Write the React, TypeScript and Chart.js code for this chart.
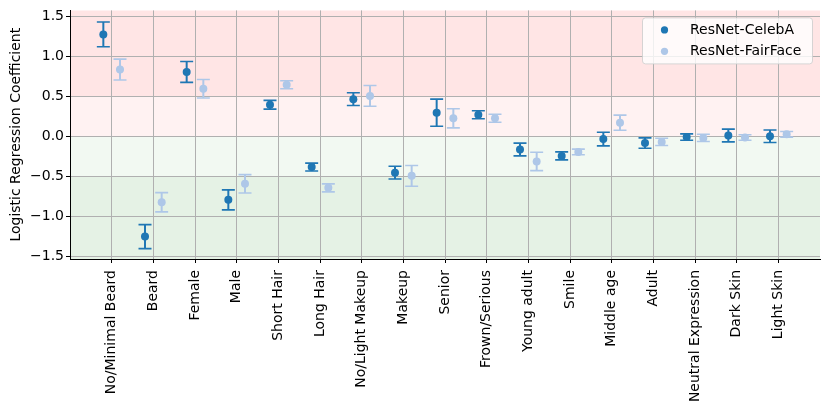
import { Chart, registerables } from "chart.js";
import { useEffect, useRef } from "react";

Chart.register(...registerables);

Chart.defaults.font.family = "'DejaVu Sans', sans-serif";
Chart.defaults.font.size = 14;
Chart.defaults.color = "#000";

const categories = [
  "No/Minimal Beard",
  "Beard",
  "Female",
  "Male",
  "Short Hair",
  "Long Hair",
  "No/Light Makeup",
  "Makeup",
  "Senior",
  "Frown/Serious",
  "Young adult",
  "Smile",
  "Middle age",
  "Adult",
  "Neutral Expression",
  "Dark Skin",
  "Light Skin",
];

const celebaMean = [
  1.28, -1.25, 0.81, -0.79, 0.4, -0.38, 0.47, -0.45, 0.3, 0.275, -0.16, -0.24,
  -0.03, -0.08, -0.005, 0.015, 0.005,
];
const celebaErr = [
  0.155, 0.15, 0.13, 0.125, 0.055, 0.05, 0.08, 0.08, 0.17, 0.05, 0.08, 0.05,
  0.085, 0.065, 0.04, 0.08, 0.078,
];
const fairfaceMean = [
  0.84, -0.82, 0.6, -0.59, 0.65, -0.64, 0.51, -0.49, 0.23, 0.23, -0.31, -0.19,
  0.175, -0.065, -0.015, -0.01, 0.03,
];
const fairfaceErr = [
  0.13, 0.12, 0.115, 0.115, 0.05, 0.05, 0.13, 0.13, 0.12, 0.05, 0.115, 0.035,
  0.095, 0.045, 0.045, 0.035, 0.035,
];

const yTicks = [-1.5, -1.0, -0.5, 0.0, 0.5, 1.0, 1.5];

// shaded bands behind the data: [from, to, colour]
const bands: [number, number, string][] = [
  [0.5, 2, "rgba(255, 0, 0, 0.1)"],
  [0, 0.5, "rgba(255, 0, 0, 0.05)"],
  [-0.5, 0, "rgba(0, 128, 0, 0.05)"],
  [-2, -0.5, "rgba(0, 128, 0, 0.1)"],
];

const series = [
  { label: "ResNet-CelebA", color: "#1f77b4", mean: celebaMean, err: celebaErr, shift: -0.2 },
  { label: "ResNet-FairFace", color: "#aec7e8", mean: fairfaceMean, err: fairfaceErr, shift: 0.2 },
];

const bandPlugin = {
  id: "bands",
  beforeDraw(chart: any) {
    const { ctx, chartArea, scales } = chart;
    ctx.save();
    ctx.beginPath();
    ctx.rect(chartArea.left, chartArea.top, chartArea.width, chartArea.height);
    ctx.clip();
    for (const [from, to, color] of bands) {
      const y1 = scales.y.getPixelForValue(to);
      const y2 = scales.y.getPixelForValue(from);
      ctx.fillStyle = color;
      ctx.fillRect(chartArea.left, y1, chartArea.width, y2 - y1);
    }
    ctx.restore();
  },
};

const errorBarPlugin = {
  id: "errorBars",
  beforeDatasetsDraw(chart: any) {
    const { ctx, scales } = chart;
    ctx.save();
    chart.data.datasets.forEach((ds: any) => {
      ds.data.forEach((p: any) => {
        const x = scales.x.getPixelForValue(p.x);
        const top = scales.y.getPixelForValue(p.y + p.err);
        const bot = scales.y.getPixelForValue(p.y - p.err);
        ctx.strokeStyle = ds.backgroundColor;
        ctx.lineWidth = 2;
        ctx.beginPath();
        ctx.moveTo(x, top);
        ctx.lineTo(x, bot);
        ctx.stroke();
        ctx.lineWidth = 1.6;
        ctx.beginPath();
        ctx.moveTo(x - 6.5, top);
        ctx.lineTo(x + 6.5, top);
        ctx.moveTo(x - 6.5, bot);
        ctx.lineTo(x + 6.5, bot);
        ctx.stroke();
      });
    });
    ctx.restore();
  },
};

const legendPlugin = {
  id: "boxLegend",
  afterDatasetsDraw(chart: any) {
    const { ctx, chartArea } = chart;
    const w = 170;
    const h = 46;
    const left = chartArea.right - 7.5 - w;
    const top = chartArea.top + 7.5;
    ctx.save();
    ctx.beginPath();
    ctx.roundRect(left, top, w, h, 3);
    ctx.fillStyle = "rgba(255, 255, 255, 0.8)";
    ctx.fill();
    ctx.strokeStyle = "rgba(204, 204, 204, 0.8)";
    ctx.lineWidth = 1;
    ctx.stroke();
    ctx.font = "14px 'DejaVu Sans', sans-serif";
    ctx.textBaseline = "middle";
    series.forEach((s, i) => {
      const y = top + 12 + i * 21.4;
      ctx.fillStyle = s.color;
      ctx.beginPath();
      ctx.arc(left + 22, y, 3.6, 0, Math.PI * 2);
      ctx.fill();
      ctx.fillStyle = "#000";
      ctx.fillText(s.label, left + 47.5, y);
    });
    ctx.restore();
  },
};

export default function App() {
  const canvasRef = useRef<HTMLCanvasElement>(null);
  const chartRef = useRef<Chart | null>(null);

  useEffect(() => {
    document.body.style.margin = "0";
    if (!canvasRef.current) return;

    chartRef.current = new Chart(canvasRef.current, {
      type: "scatter",
      data: {
        datasets: series.map((s) => ({
          label: s.label,
          data: s.mean.map((m, i) => ({ x: i + s.shift, y: m, err: s.err[i] })),
          backgroundColor: s.color,
          borderColor: s.color,
          pointRadius: 4,
          pointHoverRadius: 4,
          borderWidth: 0,
        })),
      },
      options: {
        animation: false,
        responsive: true,
        maintainAspectRatio: false,
        layout: { padding: { top: 10, right: 10, left: 0, bottom: 0 } },
        plugins: {
          legend: { display: false },
          tooltip: { enabled: false },
        },
        scales: {
          x: {
            type: "linear",
            min: -1,
            max: 17,
            afterBuildTicks: (scale: any) => {
              scale.ticks = categories.map((_, i) => ({ value: i }));
            },
            afterFit: (scale: any) => {
              scale.height = 156;
            },
            ticks: {
              autoSkip: false,
              minRotation: 90,
              maxRotation: 90,
              padding: 7,
              callback: (v: any) => categories[Math.round(v)] ?? "",
            },
            grid: {
              color: "#b0b0b0",
              lineWidth: 1,
              tickColor: "#000",
              tickLength: 4,
            },
            border: { display: true, color: "#000", width: 1 },
          },
          y: {
            min: -1.53,
            max: 1.58,
            afterBuildTicks: (scale: any) => {
              scale.ticks = yTicks.map((v) => ({ value: v }));
            },
            afterFit: (scale: any) => {
              scale.width = 70;
            },
            ticks: {
              padding: 2,
              callback: (v: any) => {
                const n = Number(v);
                const s = Math.abs(n).toFixed(1);
                return n < -1e-9 ? "\u2212" + s : s;
              },
            },
            title: {
              display: true,
              text: "Logistic Regression Coefficient",
              font: { size: 14 },
              padding: { top: 8, bottom: 0 },
            },
            grid: {
              color: "#b0b0b0",
              lineWidth: 1,
              tickColor: "#000",
              tickLength: 4,
            },
            border: { display: true, color: "#000", width: 1 },
          },
        },
      },
      plugins: [bandPlugin, errorBarPlugin, legendPlugin],
    } as any);

    return () => chartRef.current?.destroy();
  }, []);

  return (
    <div style={{ width: 830, height: 415, position: "relative" }}>
      <canvas ref={canvasRef}></canvas>
    </div>
  );
}
